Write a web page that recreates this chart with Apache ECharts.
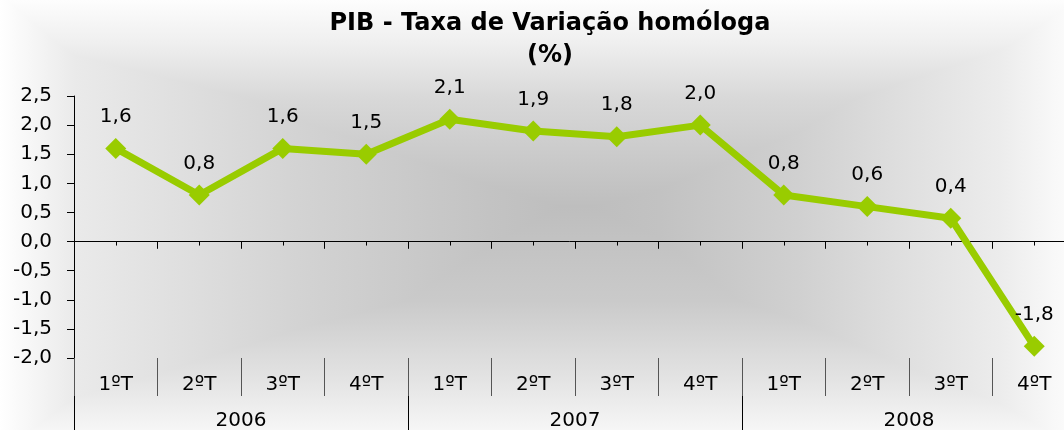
<!DOCTYPE html>
<html>
<head>
<meta charset="utf-8">
<script src="https://cdn.jsdelivr.net/npm/echarts@6/dist/echarts.min.js"></script>
<style>
  html, body { margin: 0; padding: 0; }
  #chart {
    width: 1064px;
    height: 430px;
    /* gradiente "rectangular": o mais claro dos dois gradientes lineares */
    background-image:
      linear-gradient(to right, #ffffff 0%, #f6f6f6 3%, #eaeaea 7%, #d3d3d3 28%, #c3c3c3 46%, #bdbdbd 54%, #c2c2c2 62%, #d0d0d0 75%, #dfdfdf 85%, #ececec 94%, #fafafa 100%),
      linear-gradient(to bottom, #fdfdfd 0%, #efefef 10%, #d8d8d8 23%, #bebebe 48%, #cacaca 70%, #e3e3e3 88%, #f6f6f6 100%);
    background-blend-mode: lighten;
  }
</style>
</head>
<body>
<div id="chart"></div>
<script>
const quarters = ['1ºT', '2ºT', '3ºT', '4ºT', '1ºT', '2ºT', '3ºT', '4ºT', '1ºT', '2ºT', '3ºT', '4ºT']
const years = ['2006', '2007', '2008']
const pibValues = [1.6, 0.8, 1.6, 1.5, 2.1, 1.9, 1.8, 2.0, 0.8, 0.6, 0.4, -1.8]
const yTicks = { min: -2, max: 2.5, interval: 0.5 }

const fontFamily = 'DejaVu Sans'
const green = '#99cc00'

function comma(v) {
  return v.toFixed(1).replace('.', ',')
}

const chart = echarts.init(document.getElementById('chart'))

chart.setOption({
  backgroundColor: 'transparent',
  animation: false,
  title: {
    text: 'PIB - Taxa de Variação homóloga\n(%)',
    left: 545,
    top: 3,
    textAlign: 'center',
    textStyle: {
      fontFamily,
      fontSize: 24,
      fontWeight: 'bold',
      color: '#000',
      lineHeight: 32
    }
  },
  grid: {
    left: 74,
    right: -12,
    top: 96,
    bottom: 72,
    // o gráfico original sai um pouco da imagem à direita
    outerBoundsMode: 'none'
  },
  yAxis: {
    type: 'value',
    min: yTicks.min,
    max: yTicks.max,
    interval: yTicks.interval,
    axisLine: { show: true, lineStyle: { color: '#000', width: 1 } },
    axisTick: { show: true, length: 7, lineStyle: { color: '#000' } },
    splitLine: { show: false },
    axisLabel: {
      margin: 22,
      fontFamily,
      fontSize: 20,
      color: '#000',
      formatter: comma
    }
  },
  xAxis: [
    // linha do zero com marcas para baixo
    {
      type: 'category',
      data: quarters,
      axisLine: { show: true, onZero: true, onZeroAxisIndex: 0, lineStyle: { color: '#000', width: 1 } },
      axisTick: { show: true, interval: 0, length: 7, lineStyle: { color: '#000' } },
      axisLabel: { show: false }
    },
    // marcas para cima nos limites
    {
      type: 'category',
      data: quarters,
      axisLine: { show: false, onZero: true, onZeroAxisIndex: 0 },
      axisTick: { show: true, interval: 0, inside: true, length: 7, lineStyle: { color: '#000' } },
      axisLabel: { show: false }
    },
    // marcas pequenas no centro de cada trimestre
    {
      type: 'category',
      data: quarters,
      axisLine: { show: false, onZero: true, onZeroAxisIndex: 0 },
      axisTick: { show: true, interval: 0, inside: true, alignWithLabel: true, length: 4, lineStyle: { color: '#000' } },
      axisLabel: { show: false }
    },
    // trimestres em baixo
    {
      type: 'category',
      data: quarters,
      position: 'bottom',
      axisLine: { show: false, onZero: false },
      axisTick: { show: true, interval: 0, length: 38, lineStyle: { color: '#555' } },
      axisLabel: { show: true, interval: 0, margin: 17, fontFamily, fontSize: 20, color: '#000' }
    },
    // anos
    {
      type: 'category',
      data: years,
      position: 'bottom',
      offset: 38,
      axisLine: { show: false, onZero: false },
      axisTick: { show: true, interval: 0, length: 36, lineStyle: { color: '#000' } },
      axisLabel: { show: true, interval: 0, margin: 15, fontFamily, fontSize: 20, color: '#000' }
    }
  ],
  series: [
    {
      name: 'PIB',
      type: 'line',
      xAxisIndex: 0,
      data: pibValues,
      symbol: 'diamond',
      symbolSize: 21,
      lineStyle: { color: green, width: 7 },
      itemStyle: { color: green },
      label: {
        show: true,
        position: 'top',
        distance: 11,
        fontFamily,
        fontSize: 20,
        color: '#000',
        formatter: p => comma(p.value)
      }
    }
  ]
})
</script>
</body>
</html>
